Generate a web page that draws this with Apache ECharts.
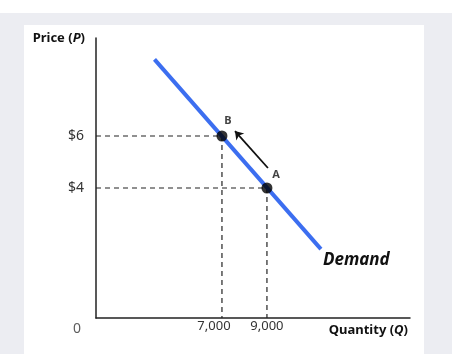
<!DOCTYPE html>
<html>
<head>
<meta charset="utf-8">
<script src="https://cdn.jsdelivr.net/npm/echarts@6/dist/echarts.min.js"></script>
<style>
  html, body { margin: 0; padding: 0; background: #fff; }
  #wrap { position: relative; width: 453px; height: 354px; overflow: hidden; }
  #gray { position: absolute; left: 0; top: 13px; width: 452px; height: 341px; background: #ecedf2; }
  #panel { position: absolute; left: 24px; top: 25px; width: 400px; height: 329px; background: #fff; }
  #chart { position: absolute; left: 0; top: 0; width: 453px; height: 354px; }
</style>
</head>
<body>
<div id="wrap">
  <div id="gray"></div>
  <div id="panel"></div>
  <div id="chart"></div>
</div>
<script>
// 坐标范围 (示意图, 非从0开始)
var xMin = 1400, xMax = 15360;
var yMin = -1, yMax = 9.77;

var xTicks = [7000, 9000];
var yTicks = [4, 6];

var demandLine = [[4000, 8.95], [11400, 1.65]];
var pointB = [7000, 6];
var pointA = [9000, 4];
var arrowMove = [[9044, 4.77], [7578, 6.19]];

var font = "Noto Sans";
var chart = echarts.init(document.getElementById("chart"));

var nameRich = {
  b: { fontFamily: font, fontWeight: "bold", fontSize: 13, color: "#111" },
  bi: { fontFamily: font, fontWeight: "bold", fontStyle: "italic", fontSize: 13, color: "#111" }
};

var option = {
  animation: false,
  grid: { left: 96, right: 43, top: 38, bottom: 36 },
  xAxis: {
    type: "value",
    min: xMin,
    max: xMax,
    name: "{b|Quantity (}{bi|Q}{b|)}",
    nameLocation: "end",
    nameGap: 0,
    nameTextStyle: {
      align: "right",
      verticalAlign: "top",
      padding: [6, 2, 0, 0],
      rich: nameRich
    },
    axisLine: { show: true, onZero: false, lineStyle: { color: "#222", width: 1.5 } },
    axisTick: { show: false },
    splitLine: { show: false },
    axisLabel: {
      customValues: xTicks,
      margin: 2,
      fontFamily: font,
      fontSize: 13,
      color: "#333",
      formatter: function (v) {
        var s = v.toLocaleString("en-US");
        return v === xTicks[0] ? "{l|" + s + "}" : s;
      },
      rich: {
        l: { fontFamily: font, fontSize: 13, color: "#333", padding: [0, 16, 0, 0] }
      }
    }
  },
  yAxis: {
    type: "value",
    min: yMin,
    max: yMax,
    name: "{b|Price (}{bi|P}{b|)}",
    nameLocation: "end",
    nameGap: 0,
    nameTextStyle: {
      align: "right",
      verticalAlign: "middle",
      padding: [0, 11, 0, 0],
      rich: nameRich
    },
    axisLine: { show: true, onZero: false, lineStyle: { color: "#222", width: 1.5 } },
    axisTick: { show: false },
    splitLine: { show: false },
    axisLabel: {
      customValues: yTicks,
      margin: 12,
      fontFamily: font,
      fontSize: 14,
      color: "#333",
      formatter: function (v) { return "$" + v; }
    }
  },
  series: [
    {
      // 虚线 B
      type: "line",
      data: [[xMin, pointB[1]], pointB, [pointB[0], yMin]],
      symbol: "none",
      lineStyle: { color: "#222", width: 1.2, type: [5, 4] },
      z: 1
    },
    {
      // 虚线 A
      type: "line",
      data: [[xMin, pointA[1]], pointA, [pointA[0], yMin]],
      symbol: "none",
      lineStyle: { color: "#222", width: 1.2, type: [5, 4] },
      z: 1
    },
    {
      type: "line",
      data: demandLine,
      symbol: "none",
      lineStyle: { color: "#3c6ef0", width: 4, cap: "butt" },
      endLabel: {
        show: true,
        formatter: "Demand",
        offset: [-6, 11],
        fontFamily: font,
        fontWeight: "bold",
        fontStyle: "italic",
        fontSize: 17,
        color: "#111"
      },
      z: 2
    },
    {
      type: "lines",
      coordinateSystem: "cartesian2d",
      data: [{ coords: arrowMove }],
      symbol: ["none", "arrow"],
      symbolSize: 8,
      lineStyle: { color: "#111", width: 1.8, opacity: 1 },
      z: 3
    },
    {
      type: "scatter",
      data: [
        { value: pointB, label: { formatter: "B", offset: [6, 1] } },
        { value: pointA, label: { formatter: "A", offset: [9, 3] } }
      ],
      symbolSize: 11,
      itemStyle: { color: "#000" },
      label: {
        show: true,
        position: "top",
        fontFamily: font,
        fontWeight: "bold",
        fontSize: 11,
        color: "#111"
      },
      z: 4
    },
    {
      // 原点 0
      type: "scatter",
      data: [[xMin, yMin]],
      symbolSize: 0,
      silent: true,
      label: {
        show: true,
        formatter: "0",
        position: "inside",
        offset: [-19, 11],
        fontFamily: font,
        fontSize: 14,
        color: "#333"
      }
    }
  ]
};

chart.setOption(option);
</script>
</body>
</html>
